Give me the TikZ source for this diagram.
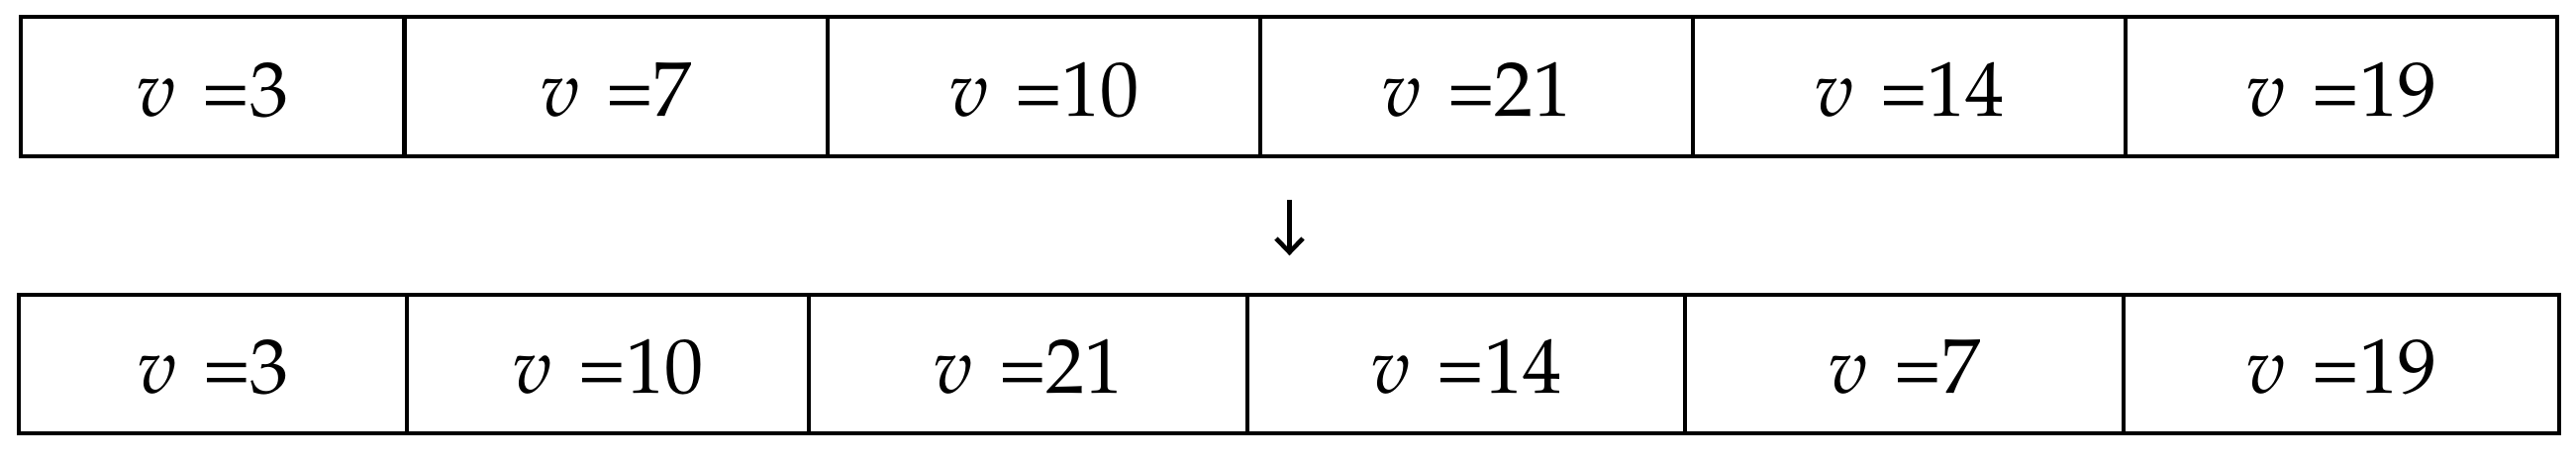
\documentclass[tikz,border=0pt]{standalone}
\usepackage[T1]{fontenc}
\usepackage{mathpazo}
\begin{document}
\begin{tikzpicture}[x=0.25pt,y=-0.25pt,
  cell/.style={draw=black, line width=1.1pt, inner sep=0pt, outer sep=0pt,
    text height=14.75pt, text depth=0pt,
    font=\fontsize{19.6}{23}\selectfont},
  arrowline/.style={draw=black, line width=1.15pt, line join=miter}]
\useasboundingbox (0,0) rectangle (2602,465);
\newcommand\mycell[6]{%
  \node[cell, minimum width={(#3-#2)*0.25pt}, minimum height={(#5-#4)*0.25pt}]
    (#1) at ({(#2+#3)/2},{(#4+#5)/2}) {$v$\hspace{0.08em} =#6};}
% top row
\mycell{t1}{21}{408.5}{17}{158}{3}
\mycell{t2}{408.5}{836}{17}{158}{7}
\mycell{t3}{836}{1273}{17}{158}{10}
\mycell{t4}{1273}{1710}{17}{158}{21}
\mycell{t5}{1710}{2147}{17}{158}{14}
\mycell{t6}{2147}{2583}{17}{158}{19}
% bottom row
\mycell{b1}{19}{411}{298}{438}{3}
\mycell{b2}{411}{817}{298}{438}{10}
\mycell{b3}{817}{1260}{298}{438}{21}
\mycell{b4}{1260}{1702}{298}{438}{14}
\mycell{b5}{1702}{2145}{298}{438}{7}
\mycell{b6}{2145}{2585}{298}{438}{19}
% arrow between the rows
\coordinate (arrtop) at (1302.5,202);
\coordinate (arrtip) at (1302.5,255);
\coordinate (arrwl) at (1289,241);
\coordinate (arrwr) at (1316,241);
\draw[arrowline] (arrtop) -- (arrtip);
\draw[arrowline] (arrwl) -- (arrtip) -- (arrwr);
\end{tikzpicture}
\end{document}
